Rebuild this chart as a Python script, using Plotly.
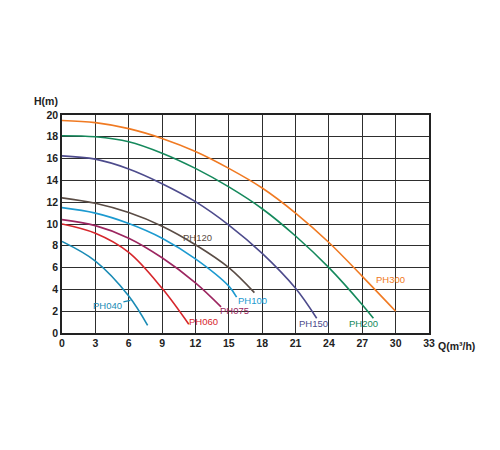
import plotly.graph_objects as go

# ---- data ----
x_ticks = [0, 3, 6, 9, 12, 15, 18, 21, 24, 27, 30, 33]
y_ticks = [0, 2, 4, 6, 8, 10, 12, 14, 16, 18, 20]

names = ["PH300", "PH200", "PH150", "PH120", "PH100", "PH075", "PH060", "PH040"]

flow_ph300 = [0, 3, 6, 9, 12, 15, 18, 21, 24, 27, 30]
head_ph300 = [19.5, 19.3, 18.75, 17.85, 16.65, 15.1, 13.3, 11.0, 8.3, 5.2, 2.0]

flow_ph200 = [0, 3, 6, 9, 12, 15, 18, 21, 24, 27, 28.0]
head_ph200 = [18.1, 18.0, 17.55, 16.5, 15.1, 13.4, 11.4, 8.9, 6.0, 2.6, 1.35]

flow_ph150 = [0, 3, 6, 9, 12, 15, 18, 21, 22.9]
head_ph150 = [16.25, 15.95, 15.05, 13.7, 12.05, 9.9, 7.3, 4.1, 1.35]

flow_ph120 = [0, 3, 6, 9, 12, 15, 17.3]
head_ph120 = [12.4, 11.9, 11.05, 9.8, 8.1, 6.0, 3.7]

flow_ph100 = [0, 3, 6, 9, 12, 15, 15.7]
head_ph100 = [11.5, 11.0, 10.05, 8.7, 6.8, 4.3, 3.3]

flow_ph075 = [0, 3, 6, 9, 12, 14.3]
head_ph075 = [10.4, 9.85, 8.7, 6.9, 4.6, 2.4]

flow_ph060 = [0, 3, 6, 9, 11.4]
head_ph060 = [10.0, 9.15, 7.4, 4.1, 0.8]

flow_ph040 = [0, 3, 6, 7.7]
head_ph040 = [8.4, 6.6, 3.4, 0.7]

# label positions (data coords)
label_x = [29.5, 27.1, 22.6, 12.15, 17.1, 15.55, 12.7, 4.1]
label_y = [4.9, 0.85, 0.85, 8.8, 3.0, 2.1, 1.05, 2.55]

colors = ["#f07a22", "#15895c", "#4d4b8c", "#5a4c45", "#1c9ad0", "#9c2660", "#d6262b", "#1a8bb5"]

flows = [flow_ph300, flow_ph200, flow_ph150, flow_ph120, flow_ph100, flow_ph075, flow_ph060, flow_ph040]
heads = [head_ph300, head_ph200, head_ph150, head_ph120, head_ph100, head_ph075, head_ph060, head_ph040]

FONT = "Liberation Sans, Arial, sans-serif"

fig = go.Figure()
for n, fx, hy, c in zip(names, flows, heads, colors):
    fig.add_trace(go.Scatter(x=fx, y=hy, mode="lines", name=n,
                             line=dict(color=c, width=1.6, shape="spline", smoothing=1.0),
                             showlegend=False, hoverinfo="skip"))

for n, lx, ly, c in zip(names, label_x, label_y, colors):
    if n == "PH040":
        # label with short leader line pointing to the curve
        fig.add_annotation(x=6.15, y=3.0, ax=-23, ay=5,
                           xref="x", yref="y", text=n, showarrow=True, arrowhead=0,
                           arrowwidth=1.3, arrowcolor=c, standoff=0,
                           font=dict(family=FONT, size=9.5, color=c))
    else:
        fig.add_annotation(x=lx, y=ly, xref="x", yref="y", text=n, showarrow=False,
                           font=dict(family=FONT, size=9.5, color=c))

fig.add_annotation(x=0, y=20, xref="x", yref="y", text="H(m)", showarrow=False,
                   xanchor="right", yanchor="bottom", xshift=-2, yshift=6,
                   font=dict(family=FONT, size=10.5, color="#222", weight="bold"))
fig.add_annotation(x=33, y=0, xref="x", yref="y", text="Q(m³/h)", showarrow=False,
                   xanchor="left", yanchor="top", xshift=7, yshift=-5,
                   font=dict(family=FONT, size=10.5, color="#222", weight="bold"))

fig.update_layout(
    width=500, height=450,
    margin=dict(l=54, r=79, t=107, b=125),
    paper_bgcolor="white", plot_bgcolor="white",
    font=dict(family=FONT),
)
fig.update_xaxes(range=[0, 33], tickvals=x_ticks, ticktext=[str(v) for v in x_ticks],
                 showgrid=True, gridcolor="#2e2e2e", gridwidth=1.3,
                 showline=True, linecolor="#222", linewidth=1.5, mirror=True,
                 zeroline=False, ticks="", ticklen=0,
                 tickfont=dict(family=FONT, size=10.5, color="#222", weight="bold"))
fig.update_yaxes(range=[0, 20], tickvals=y_ticks, ticktext=[str(v) for v in y_ticks],
                 showgrid=True, gridcolor="#2e2e2e", gridwidth=1.3,
                 showline=True, linecolor="#222", linewidth=1.5, mirror=True,
                 zeroline=False, ticks="", ticklen=0,
                 tickfont=dict(family=FONT, size=10.5, color="#222", weight="bold"))

fig.write_html("out.html")
